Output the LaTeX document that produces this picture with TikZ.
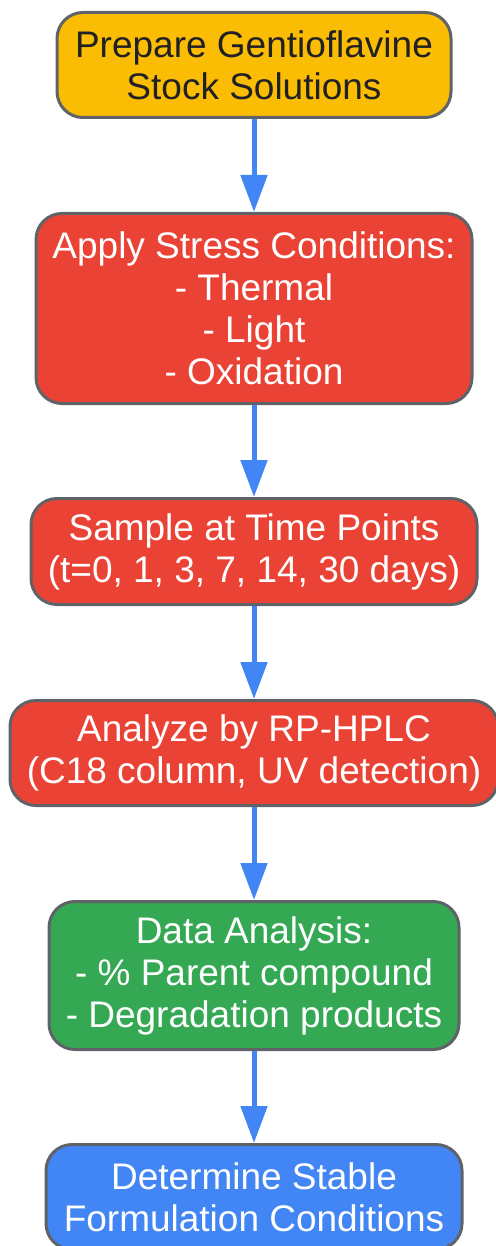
\documentclass[tikz,border=0pt]{standalone}
\usepackage{fontspec}
\setmainfont{Liberation Sans}
\usetikzlibrary{arrows.meta}
\definecolor{cyellow}{HTML}{FBBC04}
\definecolor{cred}{HTML}{EA4335}
\definecolor{cgreen}{HTML}{34A853}
\definecolor{cblue}{HTML}{4285F4}
\definecolor{cborder}{HTML}{5F6368}
\definecolor{cdark}{HTML}{202124}
\begin{document}
\begin{tikzpicture}[x=1pt,y=-1pt,
  stepbox/.style={draw=cborder, line width=3pt, rounded corners=26pt, align=center,
    inner sep=0pt, font=\fontsize{37}{42}\selectfont, text=white},
  flow/.style={draw=cblue, line width=5pt, -{Triangle[width=26pt,length=37pt]}}]
\useasboundingbox (0,0) rectangle (495,1246);
\node[stepbox, fill=cyellow, text=cdark, minimum width=394pt, minimum height=105pt] (n1) at (254,65) {Prepare Gentioflavine\\Stock Solutions};
\node[stepbox, fill=cred, minimum width=436pt, minimum height=190pt] (n2) at (254,308.5) {Apply Stress Conditions:\\- Thermal\\- Light\\- Oxidation};
\node[stepbox, fill=cred, minimum width=446pt, minimum height=106pt] (n3) at (254,551.5) {Sample at Time Points\\(t=0, 1, 3, 7, 14, 30 days)};
\node[stepbox, fill=cred, minimum width=488pt, minimum height=105pt] (n4) at (254,753) {Analyze by RP-HPLC\\(C18 column, UV detection)};
\node[stepbox, fill=cgreen, minimum width=410pt, minimum height=148pt] (n5) at (254,975.5) {Data Analysis:\\- \% Parent compound\\- Degradation products};
\node[stepbox, fill=cblue, minimum width=416pt, minimum height=105pt] (n6) at (254,1197) {Determine Stable\\Formulation Conditions};
\draw[flow] (n1.south) -- (n2.north);
\draw[flow] (n2.south) -- (n3.north);
\draw[flow] (n3.south) -- (n4.north);
\draw[flow] (n4.south) -- (n5.north);
\draw[flow] (n5.south) -- (n6.north);
\end{tikzpicture}
\end{document}
